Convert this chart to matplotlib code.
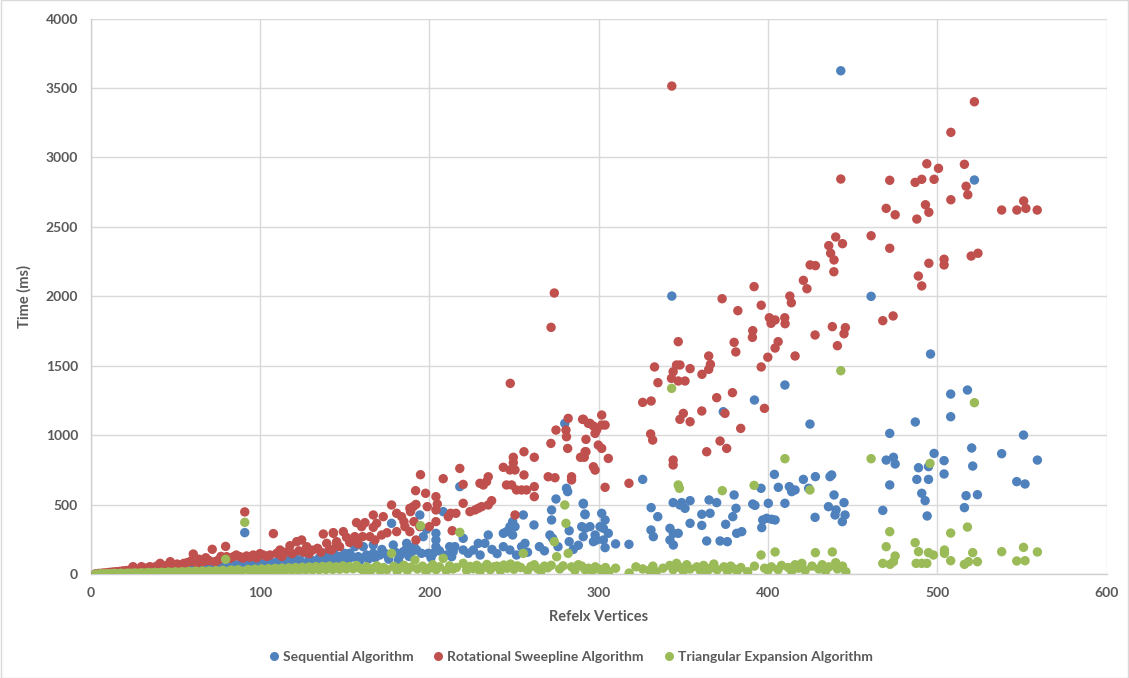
import matplotlib
matplotlib.use("Agg")
from matplotlib import pyplot as plt
from matplotlib.lines import Line2D
from matplotlib.patches import Rectangle

# Sequential Algorithm (x = reflex vertices, y = time in ms)
seq_x = [3, 5, 7, 9, 11, 13, 15, 17, 19, 21, 23, 25, 27, 29, 31, 33, 35, 37, 39, 41,
         43, 45, 47, 49, 51, 53, 55, 57, 59, 61, 63, 65, 67, 69, 71, 73, 75, 77, 79.7, 82,
         84, 86, 88, 91, 93, 95, 97, 100, 102, 104, 106, 108, 110, 111.8, 113, 115.7, 117, 119.7, 121, 123.6,
         125, 127.6, 129, 131, 133.5, 135, 136, 138.4, 140, 142, 143.3, 143.3, 144.3, 145, 147.2, 147.2, 148, 150, 152, 153,
         155, 156, 158, 159, 161, 162.9, 164, 166.9, 166.9, 168, 170.8, 172, 174, 176, 177.7, 178.7, 180, 181.7, 183, 184.6,
         186.6, 186.6, 188, 189.5, 191, 192.5, 194.4, 195.4, 196.4, 198.4, 199.4, 201, 202.3, 203.9, 203.9, 203.9, 206, 208.2, 210, 212,
         213.2, 214.1, 215.1, 218, 220, 220, 223, 226, 228.9, 230, 232.8, 234.8, 237, 240, 243.7, 243.7, 245.6, 247.6, 247.6, 249.2,
         249.2, 250.6, 251.5, 254.5, 255.5, 256.5, 258, 261.8, 265, 268, 271.2, 272.2, 272.2, 272.8, 274.8, 276, 280, 281, 281.7, 282.6,
         282.6, 285, 288, 290, 290.9, 290.9, 291, 291.9, 292, 292, 294.9, 296.9, 297.9, 298.8, 300.8, 301.8, 302.8, 302.8, 303.8, 303.8,
         305.7, 310, 317.9, 326, 330.9, 331, 332.3, 334.9, 342.1, 342.1, 343.2, 344, 344.1, 344.1, 347, 348, 349, 351, 354, 354,
         360.9, 360.9, 363.8, 365.2, 365.8, 369.7, 371.7, 373.6, 375, 376, 379.2, 380, 381.1, 381.5, 384.5, 391, 392, 392.3, 395.9, 396.3,
         396.9, 399.2, 400.2, 402.2, 403.8, 404.2, 406.1, 410, 410, 412.6, 414, 416, 420.9, 424, 424.8, 427.8, 428, 435.7, 436.6, 437.6,
         439, 439.6, 440.2, 443, 443.9, 444.9, 445.5, 460.9, 467.8, 469.8, 471.9, 471.9, 474.1, 475.1, 487, 487.9, 488.9, 490.8, 492.8, 494,
         494.8, 494.8, 496, 498.1, 504, 504, 507.9, 507.9, 516, 517, 517.8, 520.3, 520.9, 521.9, 523.7, 538, 546.9, 550.9, 551.8, 559.1]
seq_y = [3, 4, 5, 6, 8, 9, 10, 12, 13, 15, 16, 18, 20, 22, 24, 25, 27, 28, 30, 32,
         33, 35, 36, 38, 40, 41, 43, 45, 46, 48, 50, 52, 54, 56, 58, 60, 62, 64, 70, 66,
         70, 68, 72, 301, 75, 70, 78, 80, 72, 85, 76, 82, 90, 68, 95, 85, 100, 92, 110, 104,
         80, 68, 115, 100, 92, 120, 85, 152, 110, 130, 176, 92, 140, 115, 128, 104, 92, 152, 110, 152,
         125, 200, 128, 100, 200, 140, 110, 212, 152, 120, 140, 180, 150, 110, 368, 212, 160, 104, 140, 164,
         224, 188, 130, 164, 200, 176, 428, 152, 272, 325, 152, 120, 152, 296, 248, 200, 170, 452, 140, 200,
         128, 164, 200, 632, 260, 176, 152, 176, 224, 140, 224, 284, 180, 150, 296, 200, 308, 344, 176, 380,
         284, 344, 140, 200, 428, 224, 160, 356, 200, 170, 284, 464, 392, 260, 543, 200, 1087, 620, 596, 315,
         236, 180, 210, 344, 512, 272, 507, 435, 430, 332, 344, 236, 284, 248, 344, 440, 332, 248, 392, 193,
         296, 220, 217, 684, 320, 481, 272, 416, 332, 248, 2003, 517, 296, 212, 296, 500, 517, 476, 531, 368,
         433, 353, 241, 536, 440, 517, 241, 1171, 361, 236, 416, 572, 476, 296, 308, 507, 1255, 497, 620, 337,
         392, 404, 512, 397, 720, 392, 627, 1363, 512, 632, 596, 608, 684, 620, 1082, 411, 704, 488, 704, 716,
         572, 428, 464, 3624, 380, 517, 428, 2001, 461, 823, 1015, 644, 843, 795, 1097, 684, 768, 584, 531, 421,
         776, 684, 1586, 871, 819, 723, 1298, 1135, 481, 567, 1327, 910, 780, 2838, 574, 869, 668, 1003, 651, 823]

# Rotational Sweepline Algorithm
rot_x = [3, 5, 7, 9, 11, 13, 15, 17, 19, 21, 23, 25, 27, 29, 30, 32, 34, 35, 37, 39,
         41, 43, 45, 47, 49, 51, 53, 55, 57, 59, 60.6, 62.6, 64, 66.5, 68, 70, 71.8, 73.4, 75.4, 77,
         79.7, 80.3, 82, 84.3, 86, 88.2, 90, 91, 92.1, 94, 96, 98, 100, 102, 104, 105.9, 107.9, 109.8, 111.8, 113,
         115, 117.7, 119, 121.7, 123, 124.6, 126, 127.6, 129, 131, 134, 136, 137.4, 139.4, 141, 142.3, 143.3, 143.3, 145.2, 145.3,
         147, 149.2, 151.1, 153, 156, 157, 158, 160, 160.6, 162, 164.9, 166.9, 166.9, 167.9, 168.9, 171.8, 172.8, 175, 177.7, 180.7,
         180.7, 183.6, 185, 185.6, 188.5, 188.5, 188.9, 190.5, 190.9, 191.9, 192.1, 192.1, 194.4, 194.8, 197.8, 198.8, 200, 203.9, 203.9, 203.9,
         204.7, 208.2, 211.2, 212.6, 213.5, 215.7, 218, 220, 220, 224, 227, 228.9, 229.9, 230.9, 231.9, 233.8, 234.8, 234.8, 236.8, 243.7,
         245.6, 247.6, 247.8, 248.6, 249.6, 249.6, 250.6, 250.6, 251.5, 254.5, 255.9, 255.9, 257.4, 262, 262, 262, 270.2, 271.8, 271.9, 273.8,
         274.2, 274.8, 280.7, 281, 281.7, 282, 284, 284, 289.3, 290.5, 291, 291.5, 292, 292.5, 292.5, 293.9, 294.9, 296.9, 296.9, 297.9,
         297.9, 298.8, 299.8, 301.8, 301.8, 301.8, 303.8, 303.8, 305.7, 317.9, 326, 330.7, 331, 331.9, 333, 335, 343, 343.2, 344, 344,
         344, 346, 347, 347, 348, 348, 350, 351, 354, 354, 360.9, 361, 363.8, 365, 365, 366, 369.7, 371.7, 372.9, 374.6,
         375.6, 379, 380, 381, 382.2, 383.9, 390.8, 391, 391.8, 396, 396, 397.9, 399.9, 400.8, 401.8, 404.2, 404.2, 406, 409.9, 410.1,
         412.9, 413.8, 416, 420.9, 423, 424.9, 427.8, 428, 435.9, 437, 438, 438.9, 439, 440, 441, 443, 444, 444.9, 445.7, 460.9,
         467.8, 469.8, 471.9, 471.9, 473.9, 475.1, 486.9, 487.9, 488.8, 490.8, 490.8, 493, 493.8, 495, 495, 498.1, 500.7, 504, 504, 508,
         508, 516, 517, 518, 520, 521.9, 524, 538, 547, 551, 552.3, 559]
rot_y = [5, 8, 10, 12, 15, 18, 20, 22, 26, 28, 32, 56, 35, 40, 56, 45, 48, 56, 50, 60,
         80, 58, 65, 92, 70, 75, 68, 80, 85, 95, 147, 80, 110, 92, 120, 100, 181, 92, 104, 130,
         202, 128, 115, 128, 140, 128, 118, 450, 133, 125, 140, 120, 150, 140, 130, 140, 294, 152, 176, 130,
         160, 207, 150, 236, 170, 248, 160, 200, 150, 175, 188, 160, 291, 224, 180, 176, 301, 296, 224, 236,
         200, 308, 267, 230, 272, 373, 220, 344, 272, 373, 272, 428, 339, 248, 368, 284, 416, 300, 500, 440,
         308, 416, 380, 344, 476, 308, 452, 488, 380, 603, 504, 248, 344, 718, 584, 488, 344, 560, 464, 380,
         507, 689, 416, 440, 315, 440, 763, 648, 512, 452, 464, 476, 656, 488, 644, 668, 703, 500, 531, 771,
         644, 752, 1375, 644, 843, 804, 752, 428, 608, 608, 883, 716, 608, 843, 632, 560, 703, 943, 1778, 2025,
         696, 1039, 1039, 991, 907, 1123, 703, 680, 843, 1116, 1116, 843, 883, 972, 883, 1087, 1087, 1068, 775, 1015,
         751, 1039, 931, 1147, 1075, 907, 1075, 627, 835, 656, 1238, 1011, 1248, 967, 1493, 1380, 1411, 3514, 1459, 823,
         788, 1507, 1675, 1392, 1507, 1116, 1159, 1392, 1481, 1099, 1176, 1440, 883, 1572, 1476, 1512, 1272, 960, 1984, 1159,
         907, 1308, 1670, 1601, 1898, 1051, 1706, 1754, 2071, 1937, 1493, 1195, 1563, 1847, 1807, 1831, 1629, 1675, 1847, 1804,
         2003, 1955, 1572, 2116, 2056, 2227, 1723, 2222, 2366, 2311, 1783, 2178, 2263, 2428, 1646, 2845, 2380, 1732, 1776, 2437,
         1826, 2634, 2836, 2347, 1860, 2588, 2821, 2557, 2147, 2843, 2076, 2660, 2955, 2606, 2239, 2843, 2922, 2268, 2227, 3181,
         2696, 2951, 2793, 2732, 2291, 3401, 2311, 2622, 2622, 2687, 2634, 2622]

# Triangular Expansion Algorithm
tri_x = [3, 5, 6, 8, 10, 12, 14, 16, 18, 20, 22, 24, 26, 28, 30, 32, 34, 36, 38, 40,
         42, 44, 46, 48, 50, 52, 54, 56, 58, 60, 62, 64, 66, 68, 70, 72, 74, 76, 78, 79.7,
         81, 83, 85, 87, 89, 91, 93, 95, 97, 99, 101, 103, 105, 107, 109, 111, 113, 115, 117, 119,
         121, 123, 125, 127, 129, 131, 133, 135, 137, 139, 141, 143, 145, 147, 149, 151, 153, 155, 157, 159,
         161, 163, 165, 167, 169, 171, 173, 175, 177.7, 179, 181, 183, 185, 187, 189, 191.5, 193, 194.8, 196, 198,
         200, 202, 204, 206, 208.2, 210, 212, 214, 216, 218, 220, 222, 224, 226, 228, 230, 232, 234, 236, 238,
         240, 242, 244, 246, 248, 250, 252, 254, 255.5, 258, 260, 262, 264, 266, 268, 270, 272, 273.8, 275.2, 277,
         279, 280, 280.7, 282, 284, 286, 288, 290, 292, 294, 296, 298, 300, 302, 304, 306, 310, 318, 322, 326,
         330, 332, 334, 338, 342, 343.1, 344, 346, 347, 347.7, 348, 350, 352, 354, 358, 360, 362, 364, 366, 368,
         370, 373, 374, 376, 378, 380, 382, 384, 388, 391.8, 392, 395.9, 398, 400, 402, 404.2, 406, 408, 410, 412,
         414, 416, 418, 420, 422, 424.8, 426, 428, 430, 432, 434, 436, 438, 440, 441, 443, 444, 446, 460.9, 467.8,
         469.8, 471.9, 472.1, 474.1, 475.1, 486.9, 487.5, 488.9, 490.8, 493.8, 494.8, 495.7, 497.7, 504.2, 504.2, 507.9, 507.9, 516, 517.8, 518.4,
         520.9, 521.9, 523.7, 538, 546.9, 550.9, 551.8, 559.1]
tri_y = [2, 3, 5, 4, 6, 5, 8, 6, 9, 7, 10, 8, 11, 9, 12, 10, 14, 11, 15, 12,
         16, 13, 18, 14, 19, 15, 20, 16, 22, 17, 24, 18, 25, 19, 26, 20, 28, 21, 30, 109,
         22, 32, 23, 34, 24, 375, 36, 25, 38, 26, 40, 27, 42, 28, 44, 29, 46, 30, 48, 31,
         50, 32, 52, 33, 54, 34, 56, 35, 58, 36, 60, 37, 55, 38, 62, 40, 57, 42, 64, 44,
         30, 55, 20, 45, 62, 28, 50, 35, 152, 58, 25, 48, 66, 30, 52, 104, 40, 351, 60, 22,
         45, 70, 35, 55, 116, 28, 62, 40, 50, 303, 80, 30, 58, 42, 66, 25, 50, 72, 35, 55,
         60, 28, 68, 45, 75, 38, 62, 50, 152, 30, 58, 70, 42, 25, 60, 48, 66, 236, 128, 40,
         62, 500, 368, 152, 55, 30, 70, 60, 35, 45, 25, 55, 40, 30, 50, 20, 45, 10, 55, 40,
         30, 60, 20, 45, 65, 1339, 35, 80, 644, 620, 50, 25, 70, 40, 55, 30, 65, 20, 45, 75,
         35, 603, 55, 25, 60, 40, 30, 50, 20, 641, 60, 140, 45, 30, 55, 162, 35, 65, 833, 50,
         25, 70, 45, 80, 30, 608, 60, 157, 40, 70, 25, 55, 162, 85, 40, 1466, 60, 20, 833, 80,
         200, 308, 73, 92, 133, 229, 80, 164, 80, 80, 157, 799, 140, 176, 152, 298, 99, 73, 341, 92,
         157, 1236, 92, 164, 97, 195, 99, 162]

series = [
    ("Sequential Algorithm", seq_x, seq_y, "#4F81BD"),
    ("Rotational Sweepline Algorithm", rot_x, rot_y, "#C0504D"),
    ("Triangular Expansion Algorithm", tri_x, tri_y, "#9BBB59"),
]

plt.rcParams['font.family'] = ['Lato', 'DejaVu Sans']

fig = plt.figure(figsize=(11.29, 6.78), dpi=100)
ax = fig.add_axes([0.0803, 0.1527, 0.8999, 0.82])

for name, xs, ys, color in series:
    ax.scatter(xs, ys, s=46, color=color, edgecolors='none', label=name, zorder=3)

ax.set_xlim(0, 600)
ax.set_ylim(0, 4000)
ax.set_xticks(range(0, 601, 100))
ax.set_yticks(range(0, 4001, 500))
ax.grid(True, color="#D9D9D9", linewidth=1)
ax.set_axisbelow(True)

for side in ['top', 'right']:
    ax.spines[side].set_visible(False)
for side in ['left', 'bottom']:
    ax.spines[side].set_color("#D0D0D0")
    ax.spines[side].set_linewidth(1)

ax.tick_params(length=0, labelsize=10, labelcolor="#595959", pad=9)
for label in ax.get_xticklabels() + ax.get_yticklabels():
    label.set_fontweight('bold')

ax.set_xlabel("Refelx Vertices", fontsize=10.5, fontweight='bold', color="#595959", labelpad=8)
ax.set_ylabel("Time (ms)", fontsize=10.5, fontweight='bold', color="#595959", labelpad=10)

handles = [Line2D([], [], marker='o', linestyle='none', markersize=6.5,
                  markerfacecolor=c, markeredgecolor='none') for _, _, _, c in series]
fig.legend(handles, [s[0] for s in series], loc='center', bbox_to_anchor=(0.506, 0.031),
           ncol=3, frameon=False, handlelength=0.6, handletextpad=0.35, columnspacing=1.5,
           prop={'weight': 'bold', 'size': 10}, labelcolor="#595959")

fig.patches.append(Rectangle((0.0005, 0.0005), 0.999, 0.999, transform=fig.transFigure,
                             fill=False, edgecolor="#D9D9D9", linewidth=1))

fig.savefig("out.png", dpi=100)
